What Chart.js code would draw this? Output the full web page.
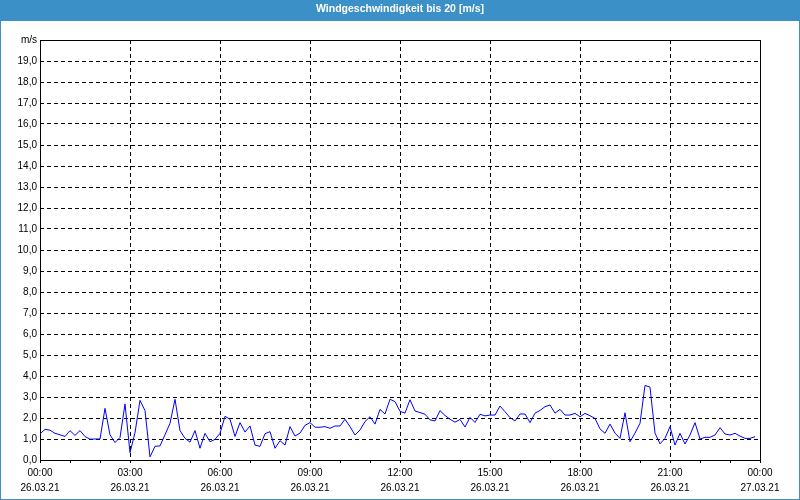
<!DOCTYPE html>
<html><head><meta charset="utf-8">
<script src="https://cdn.jsdelivr.net/npm/chart.js@4"></script>
<style>html,body{margin:0;padding:0;background:#fff}canvas{display:block}</style>
</head><body>
<canvas id="c" width="800" height="500"></canvas>
<script>
const chartTitle = 'Windgeschwindigkeit bis 20 [m/s]';
const times = [
'00:00','00:10','00:20','00:30','00:40','00:50','01:00','01:10','01:20','01:30','01:40','01:50',
'02:00','02:10','02:20','02:30','02:40','02:50','03:00','03:10','03:20','03:30','03:40','03:50',
'04:00','04:10','04:20','04:30','04:40','04:50','05:00','05:10','05:20','05:30','05:40','05:50',
'06:00','06:10','06:20','06:30','06:40','06:50','07:00','07:10','07:20','07:30','07:40','07:50',
'08:00','08:10','08:20','08:30','08:40','08:50','09:00','09:10','09:20','09:30','09:40','09:50',
'10:00','10:10','10:20','10:30','10:40','10:50','11:00','11:10','11:20','11:30','11:40','11:50',
'12:00','12:10','12:20','12:30','12:40','12:50','13:00','13:10','13:20','13:30','13:40','13:50',
'14:00','14:10','14:20','14:30','14:40','14:50','15:00','15:10','15:20','15:30','15:40','15:50',
'16:00','16:10','16:20','16:30','16:40','16:50','17:00','17:10','17:20','17:30','17:40','17:50',
'18:00','18:10','18:20','18:30','18:40','18:50','19:00','19:10','19:20','19:30','19:40','19:50',
'20:00','20:10','20:20','20:30','20:40','20:50','21:00','21:10','21:20','21:30','21:40','21:50',
'22:00','22:10','22:20','22:30','22:40','22:50','23:00','23:10','23:20','23:30','23:40','23:50'];
const speeds = [
1.24,1.46,1.42,1.27,1.20,1.12,1.40,1.17,1.40,1.12,0.99,1.00,
1.00,2.46,1.20,0.83,1.07,2.67,0.35,1.30,2.84,2.35,0.15,0.65,
0.67,1.20,1.75,2.89,1.40,1.03,0.85,1.40,0.56,1.27,0.87,0.98,
1.27,2.08,1.94,1.12,1.78,1.33,1.62,0.71,0.65,1.25,1.35,0.56,
0.92,0.71,1.59,1.14,1.28,1.65,1.78,1.56,1.56,1.59,1.51,1.62,
1.62,1.94,1.59,1.19,1.43,1.83,2.06,1.71,2.41,2.19,2.89,2.78,
2.32,2.23,2.87,2.33,2.26,2.18,1.91,1.86,2.35,2.12,1.94,1.80,
1.93,1.57,2.03,1.79,2.18,2.10,2.14,2.14,2.57,2.30,2.02,1.86,
2.19,2.19,1.78,2.23,2.36,2.54,2.62,2.23,2.41,2.14,2.14,2.22,
2.06,2.22,2.11,1.98,1.48,1.27,1.71,1.28,1.03,2.25,0.87,1.28,
1.75,3.55,3.47,1.28,0.77,1.03,1.59,0.71,1.27,0.76,1.19,1.78,
1.00,1.08,1.08,1.19,1.54,1.24,1.19,1.27,1.14,1.03,1.03,1.11];
const xTickTimes = ['00:00','03:00','06:00','09:00','12:00','15:00','18:00','21:00','00:00'];
const xTickDates = ['26.03.21','26.03.21','26.03.21','26.03.21','26.03.21','26.03.21','26.03.21','26.03.21','27.03.21'];
const yTickLabels = ['0,0','1,0','2,0','3,0','4,0','5,0','6,0','7,0','8,0','9,0','10,0',
'11,0','12,0','13,0','14,0','15,0','16,0','17,0','18,0','19,0','m/s'];

const toMin = t => { const p = t.split(':'); return (+p[0]) * 60 + (+p[1]); };
const points = times.map((t, i) => ({ x: toMin(t), y: speeds[i] }));

Chart.defaults.font.family = "'Liberation Sans', Arial, sans-serif";
Chart.defaults.font.size = 10;
Chart.defaults.color = '#000';

const framePlugin = {
  id: 'frame',
  beforeDraw(chart) {
    const c = chart.ctx;
    c.save();
    c.fillStyle = '#ffffff';
    c.fillRect(0, 0, chart.width, chart.height);
    c.fillStyle = '#3c90c8';
    c.fillRect(0, 0, chart.width, 21);
    c.strokeStyle = '#3c90c8';
    c.lineWidth = 1;
    c.strokeRect(0.5, 0.5, chart.width - 1, chart.height - 1);
    c.restore();
  },
  beforeDatasetsDraw(chart) {
    const a = chart.chartArea, c = chart.ctx;
    c.save();
    c.strokeStyle = '#000';
    c.lineWidth = 1;
    c.setLineDash([]);
    c.strokeRect(a.left + 0.5, a.top + 0.5, a.right - a.left, a.bottom - a.top);
    c.restore();
  }
};

new Chart(document.getElementById('c'), {
  type: 'line',
  data: {
    datasets: [{
      data: points,
      borderColor: '#0000ff',
      borderWidth: 1,
      pointRadius: 0,
      tension: 0,
      fill: false
    }]
  },
  options: {
    responsive: false,
    animation: false,
    events: [],
    layout: { padding: 0 },
    plugins: {
      legend: { display: false },
      tooltip: { enabled: false },
      title: {
        display: true,
        text: chartTitle,
        color: '#ffffff',
        font: { size: 10.5, weight: 'bold', lineHeight: 1.2 },
        padding: { top: 2.5, bottom: 24.9 }
      }
    },
    scales: {
      x: {
        type: 'linear',
        min: 0, max: 1440,
        afterFit(s) { s.height = 40; },
        ticks: {
          stepSize: 60,
          autoSkip: false,
          maxRotation: 0,
          padding: 3,
          font: { size: 10, lineHeight: 1.5 },
          callback: v => (v % 180 === 0) ? [xTickTimes[v / 180], xTickDates[v / 180]] : ''
        },
        grid: {
          color: ctx => (ctx.tick && ctx.tick.value % 180 === 0 && ctx.tick.value > 0 && ctx.tick.value < 1440) ? '#000' : 'rgba(0,0,0,0)',
          tickColor: '#000',
          tickLength: 3,
          lineWidth: 1
        },
        border: { display: false, dash: [4, 3] }
      },
      y: {
        min: 0, max: 20,
        afterFit(s) { s.width = 40; },
        ticks: {
          stepSize: 1,
          padding: 3,
          font: { size: 10 },
          callback: (v, i) => yTickLabels[i]
        },
        grid: {
          color: ctx => (ctx.tick && ctx.tick.value > 0 && ctx.tick.value < 20) ? '#000' : 'rgba(0,0,0,0)',
          drawTicks: false,
          lineWidth: 1
        },
        border: { display: false, dash: [4, 3] }
      },
      yRight: {
        position: 'right',
        min: 0, max: 20,
        afterFit(s) { s.width = 40; },
        ticks: { display: false },
        grid: { display: false, drawTicks: false },
        border: { display: false }
      }
    }
  },
  plugins: [framePlugin]
});
</script>
</body></html>
